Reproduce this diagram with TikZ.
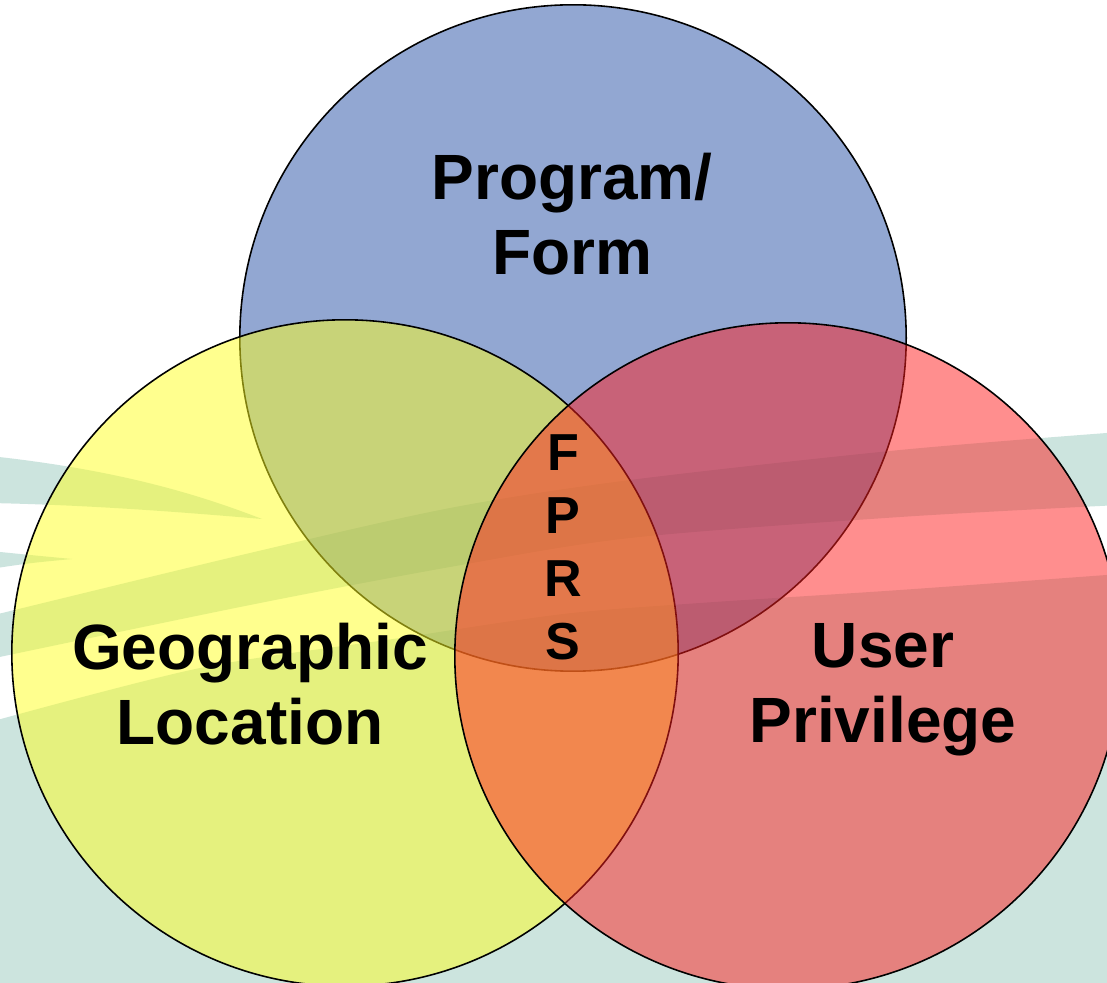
\documentclass[tikz,border=0pt]{standalone}
\usepackage{fontspec}
\setmainfont{Liberation Sans}
\definecolor{bgteal}{RGB}{204,228,222}
\definecolor{vblue}{RGB}{39,81,167}
\definecolor{vyellow}{RGB}{255,255,31}
\definecolor{vred}{RGB}{255,31,31}

\begin{document}
\begin{tikzpicture}[x=0.01cm,y=-0.01cm,
  set/.style={draw,circle,line width=0.45pt,minimum size=6.66cm,inner sep=0pt,fill opacity=0.5},
  lbl/.style={align=center,font=\fontsize{18.2}{21.3}\selectfont\bfseries}]

\useasboundingbox (0,0) rectangle (1107,983);
\fill[white] (0,0) rectangle (1107,983);

% background swooshes
\fill[bgteal] (-10,456) .. controls (120,470) and (200,495) .. (262,519) .. controls (180,512) and (90,505) .. (-10,503) -- cycle;
\fill[bgteal] (-10,551) .. controls (30,555) .. (72,559) .. controls (30,563) .. (-10,569) -- cycle;
\fill[bgteal] plot[smooth] coordinates {(-10,616) (250,553) (450,508) (630,480) (900,450) (1120,432)}
  -- plot[smooth] coordinates {(1120,505) (900,517) (630,538) (450,567) (250,605) (-10,659)} -- cycle;
\fill[bgteal] plot[smooth] coordinates {(-10,722) (200,668) (400,638) (563,614) (700,603) (900,590) (1120,574)}
  -- (1120,995) -- (-10,995) -- cycle;

% the three sets
\node[set,fill=vblue] (prog) at (573,338) {};
\node[set,fill=vyellow] (geo) at (345,653) {};
\node[set,fill=vred] (user) at (788,656) {};

\node[lbl] (progtxt) at (572,214) {Program/\\Form};
\node[lbl] (geotxt) at (250,684) {Geographic\\Location};
\node[lbl] (usertxt) at (883,690) {User\\Privilege};
\node[lbl,font=\fontsize{14.8}{17.9}\selectfont\bfseries] (fprs) at (563,547) {F\\P\\R\\S};

\end{tikzpicture}
\end{document}
